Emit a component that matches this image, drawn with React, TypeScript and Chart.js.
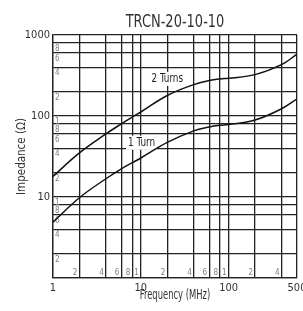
import React, { useEffect, useRef } from 'react';
import { Chart, registerables } from 'chart.js';

Chart.register(...registerables);

const FONT = "'Liberation Sans Narrow', 'DejaVu Sans Condensed', 'Arial Narrow', sans-serif";

// Data
const frequencies = [1, 2, 4, 6, 8, 10, 20, 40, 60, 80, 100, 200, 400, 600];
const twoTurns = [18, 35, 60, 80, 97, 112, 179, 244, 274, 287, 292, 324, 430, 580];
const oneTurn = [4.9, 9.8, 16.8, 22.3, 26.5, 30.3, 47.2, 65.6, 73.3, 77, 78.5, 89.3, 123, 163];

// Texts
const chartTitle = 'TRCN-20-10-10';
const xTitle = 'Frequency (MHz)';
const yTitle = 'Impedance (Ω)';

// Axes
const xMin = 1;
const xMax = 600;
const yMin = 1;
const yMax = 1000;
const xGridValues = [1, 2, 4, 6, 8, 10, 20, 40, 60, 80, 100, 200, 400, 600];
const yGridValues = [1, 2, 4, 6, 8, 10, 20, 40, 60, 80, 100, 200, 400, 600, 800, 1000];
const xTickValues = [1, 10, 100, 600];
const xTickLabels = ['1', '10', '100', '500'];
const yTickValues = [10, 100, 1000];
const yTickLabels = ['10', '100', '1000'];

// Small labels drawn inside the grid
const xInnerValues = [2, 4, 6, 8, 10, 20, 40, 60, 80, 100, 200, 400];
const xInnerLabels = ['2', '4', '6', '8', '1', '2', '4', '6', '8', '1', '2', '4'];
const yInnerValues = [2, 4, 6, 8, 10, 20, 40, 60, 80, 100, 200, 400, 600, 800];
const yInnerLabels = ['2', '4', '6', '8', '1', '2', '4', '6', '8', '1', '2', '4', '6', '8'];

// Curve labels
const curveLabels = ['2 Turns', '1 Turn'];
const curveLabelX = [20, 10.2];
const curveLabelY = [287, 46.8];

function condensedText(
  ctx: CanvasRenderingContext2D,
  text: string,
  x: number,
  y: number,
  size: number,
  sx: number,
  rot = 0,
  color = '#222'
) {
  ctx.save();
  ctx.translate(x, y);
  ctx.rotate(rot);
  ctx.scale(sx, 1);
  ctx.font = `${size}px ${FONT}`;
  ctx.fillStyle = color;
  ctx.textAlign = 'center';
  ctx.textBaseline = 'middle';
  ctx.fillText(text, 0, 0);
  ctx.restore();
}

const overlayPlugin = {
  id: 'overlay',
  beforeDatasetsDraw(chart: any) {
    const { ctx, chartArea } = chart;
    const xs = chart.scales.x;
    const ys = chart.scales.y;
    ctx.save();
    ctx.font = `8px ${FONT}`;
    ctx.fillStyle = '#808080';
    ctx.textAlign = 'left';
    ctx.textBaseline = 'top';
    yInnerValues.forEach((v, i) => {
      ctx.fillText(yInnerLabels[i], chartArea.left + 2, ys.getPixelForValue(v) + 2);
    });
    ctx.textAlign = 'right';
    ctx.textBaseline = 'bottom';
    xInnerValues.forEach((v, i) => {
      ctx.fillText(xInnerLabels[i], xs.getPixelForValue(v) - 2, chartArea.bottom - 1);
    });
    ctx.font = `12px ${FONT}`;
    curveLabels.forEach((t, i) => {
      const px = xs.getPixelForValue(curveLabelX[i]);
      const py = ys.getPixelForValue(curveLabelY[i]);
      const w = ctx.measureText(t).width * 0.82 + 4;
      ctx.fillStyle = '#fff';
      ctx.fillRect(px - w / 2, py - 7, w, 14);
      condensedText(ctx, t, px, py, 12, 0.82, 0, '#222');
    });
    ctx.restore();
  },
  afterDraw(chart: any) {
    const { ctx, chartArea } = chart;
    condensedText(ctx, chartTitle, (chartArea.left + chartArea.right) / 2, 23, 17, 0.85, 0, '#333');
    condensedText(ctx, xTitle, (chartArea.left + chartArea.right) / 2, 295, 13.5, 0.69, 0, '#333');
    condensedText(ctx, yTitle, 21.5, (chartArea.top + chartArea.bottom) / 2, 12.5, 0.92, -Math.PI / 2, '#333');
  },
};

export default function App() {
  const ref = useRef<HTMLCanvasElement | null>(null);
  useEffect(() => {
    if (!ref.current) return;
    const chart = new Chart(ref.current, {
      type: 'line',
      data: {
        datasets: [
          {
            label: '2 Turns',
            data: frequencies.map((f, i) => ({ x: f, y: twoTurns[i] })),
            borderColor: '#111',
            borderWidth: 1.5,
            pointRadius: 0,
            tension: 0.4,
            fill: false,
          },
          {
            label: '1 Turn',
            data: frequencies.map((f, i) => ({ x: f, y: oneTurn[i] })),
            borderColor: '#111',
            borderWidth: 1.5,
            pointRadius: 0,
            tension: 0.4,
            fill: false,
          },
        ],
      },
      options: {
        animation: false,
        responsive: false,
        layout: { padding: { left: 0, right: 6, top: 35, bottom: 0 } },
        plugins: {
          legend: { display: false },
          tooltip: { enabled: false },
          title: { display: false },
        },
        scales: {
          x: {
            type: 'logarithmic',
            min: xMin,
            max: xMax,
            afterBuildTicks: (s: any) => {
              s.ticks = xGridValues.map((v) => ({ value: v }));
            },
            afterFit: (s: any) => {
              s.height = 33;
              s.paddingLeft = 0;
              s.paddingRight = 0;
            },
            ticks: {
              autoSkip: false,
              maxRotation: 0,
              padding: 4,
              color: '#333',
              font: { family: FONT, size: 11 },
              callback: (v: any) => {
                const i = xTickValues.indexOf(Number(v));
                return i >= 0 ? xTickLabels[i] : '';
              },
            },
            grid: { color: '#222', lineWidth: 1.3, drawTicks: false },
            border: { display: true, color: '#222', width: 1.3 },
          },
          y: {
            type: 'logarithmic',
            min: yMin,
            max: yMax,
            afterBuildTicks: (s: any) => {
              s.ticks = yGridValues.map((v) => ({ value: v }));
            },
            afterFit: (s: any) => {
              s.width = 53;
              s.paddingTop = 0;
              s.paddingBottom = 0;
            },
            ticks: {
              autoSkip: false,
              padding: 3,
              color: '#333',
              font: { family: FONT, size: 11 },
              callback: (v: any) => {
                const i = yTickValues.indexOf(Number(v));
                return i >= 0 ? yTickLabels[i] : '';
              },
            },
            grid: { color: '#222', lineWidth: 1.3, drawTicks: false },
            border: { display: true, color: '#222', width: 1.3 },
          },
        },
      },
      plugins: [overlayPlugin],
    } as any);
    return () => chart.destroy();
  }, []);
  return (
    <div style={{ position: 'fixed', left: 0, top: 0, width: 303, height: 311, background: '#fff' }}>
      <canvas ref={ref} width={303} height={311} style={{ width: 303, height: 311 }} />
    </div>
  );
}
